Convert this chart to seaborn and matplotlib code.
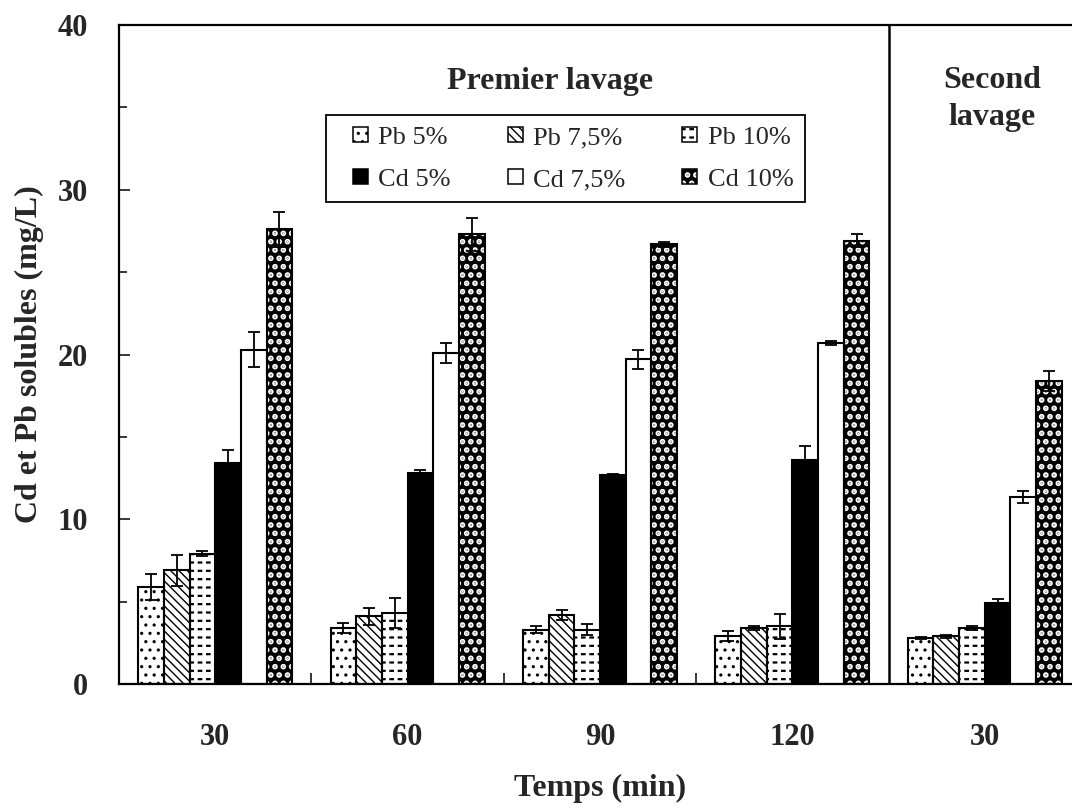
import numpy as np
import pandas as pd
import matplotlib
matplotlib.use("Agg")
import matplotlib.pyplot as plt
import matplotlib.patches as mpatches
from matplotlib.legend_handler import HandlerBase
from matplotlib.ticker import MultipleLocator, FixedLocator
import seaborn as sns

# ---------------- data ----------------
groupes = ["L1-30", "L1-60", "L1-90", "L1-120", "L2-30"]
tick_labels = ["30", "60", "90", "120", "30"]
series = ["Pb 5%", "Pb 7,5%", "Pb 10%", "Cd 5%", "Cd 7,5%", "Cd 10%"]

pb5 = [5.9, 3.4, 3.3, 2.9, 2.8]
pb75 = [6.9, 4.1, 4.2, 3.4, 2.9]
pb10 = [7.9, 4.3, 3.3, 3.5, 3.4]
cd5 = [13.4, 12.8, 12.7, 13.6, 4.9]
cd75 = [20.3, 20.1, 19.7, 20.7, 11.35]
cd10 = [27.6, 27.3, 26.7, 26.9, 18.4]

err_pb5 = [0.8, 0.3, 0.2, 0.3, 0.05]
err_pb75 = [0.95, 0.5, 0.3, 0.15, 0.1]
err_pb10 = [0.15, 0.9, 0.35, 0.75, 0.1]
err_cd5 = [0.8, 0.2, 0.05, 0.85, 0.25]
err_cd75 = [1.05, 0.6, 0.6, 0.1, 0.35]
err_cd10 = [1.05, 1.0, 0.15, 0.4, 0.6]

valeurs = [pb5, pb75, pb10, cd5, cd75, cd10]
erreurs = [err_pb5, err_pb75, err_pb10, err_cd5, err_cd75, err_cd10]

df = pd.DataFrame({
    "temps": [g for s in series for g in groupes],
    "serie": [s for s in series for g in groupes],
    "valeur": [v for vals in valeurs for v in vals],
})

# ---------------- style ----------------
sns.set_style("ticks")
plt.rcParams["font.family"] = ["Liberation Serif", "DejaVu Serif"]
plt.rcParams["font.weight"] = "bold"
plt.rcParams["hatch.linewidth"] = 1.0

faces = {"Pb 5%": "white", "Pb 7,5%": "white", "Pb 10%": "white",
         "Cd 5%": "black", "Cd 7,5%": "white", "Cd 10%": "black"}
hatches = {"Pb 5%": "..", "Pb 7,5%": "\\\\\\\\", "Pb 10%": "--",
           "Cd 5%": "", "Cd 7,5%": "", "Cd 10%": ".."}

EDGE = 1.5


def hlw(p, w):
    if hasattr(p, "set_hatch_linewidth"):
        p.set_hatch_linewidth(w)


def layers(s, xy, w, h, transform=None, lw=EDGE):
    """Patches that make up one bar / legend key of series s."""
    kw = {} if transform is None else {"transform": transform}
    out = []
    if s == "Cd 10%":
        base = mpatches.Rectangle(xy, w, h, facecolor="black", edgecolor="white",
                                  hatch=hatches[s], linewidth=0, **kw)
        hlw(base, 2.8)
        out.append(base)
    elif s == "Pb 10%":
        base = mpatches.Rectangle(xy, w, h, facecolor="white", edgecolor="black",
                                  hatch=hatches[s], linewidth=0, **kw)
        hlw(base, 1.6)
        cut = mpatches.Rectangle(xy, w, h, fill=False, edgecolor="white",
                                 hatch="||", linewidth=0, **kw)
        hlw(cut, 2.6)
        out += [base, cut]
    else:
        base = mpatches.Rectangle(xy, w, h, facecolor=faces[s], edgecolor="black",
                                  hatch=hatches[s] or None, linewidth=0, **kw)
        if s == "Pb 5%":
            hlw(base, 1.1)
        out.append(base)
    out.append(mpatches.Rectangle(xy, w, h, fill=False, edgecolor="black",
                                  linewidth=lw, **kw))
    return out


fig = plt.figure(figsize=(10.72, 8.10), dpi=100)
ax = fig.add_axes([119 / 1072, 126 / 810, 962 / 1072, 659 / 810])

sns.barplot(data=df, x="temps", y="valeur", hue="serie", order=groupes,
            hue_order=series, palette=faces, saturation=1, errorbar=None,
            edgecolor="black", linewidth=EDGE, legend=False, ax=ax)

bar_containers = list(ax.containers)

# style bars + error bars
for i, cont in enumerate(bar_containers):
    s = series[i]
    xs, hs, es = [], [], []
    for p in cont.patches:
        cx = p.get_x() + p.get_width() / 2
        gi = int(round(cx))
        z = p.get_zorder()
        if s in ("Cd 10%", "Pb 10%", "Pb 5%", "Pb 7,5%"):
            p.set_visible(False)
            for k, r in enumerate(layers(s, p.get_xy(), p.get_width(), p.get_height())):
                r.set_zorder(z + 0.01 * (k + 1))
                ax.add_patch(r)
        xs.append(cx)
        hs.append(p.get_height())
        es.append(erreurs[i][gi])
    ax.errorbar(xs, hs, yerr=es, fmt="none", ecolor="black", elinewidth=1.3,
                capsize=4, capthick=1.3, zorder=5)

# separator between washes
ax.axvline(3.5, color="black", linewidth=1.8, zorder=6)

# axes
ax.set_xlim(-0.5, 4.5)
ax.set_ylim(0, 40)
ax.set_xticks(range(len(groupes)))
ax.set_xticklabels(tick_labels)
ax.xaxis.set_minor_locator(FixedLocator([0.5, 1.5, 2.5]))
ax.yaxis.set_major_locator(MultipleLocator(10))
ax.yaxis.set_minor_locator(MultipleLocator(5))
ax.tick_params(axis="x", which="major", length=0, pad=28, labelsize=22)
ax.tick_params(axis="x", which="minor", direction="in", length=8, width=1.3)
ax.tick_params(axis="y", which="major", direction="in", length=8, width=1.3,
               pad=22, labelsize=22)
ax.tick_params(axis="y", which="minor", direction="in", length=6, width=1.3)
for sp in ["left", "bottom", "top", "right"]:
    ax.spines[sp].set_visible(True)
    ax.spines[sp].set_linewidth(1.6)
    ax.spines[sp].set_color("black")

ax.set_xlabel("Temps (min)", fontsize=23, fontweight="bold", labelpad=16)
ax.set_ylabel("Cd et Pb solubles (mg/L)", fontsize=23, fontweight="bold", labelpad=10)

ax.text(1.74, 36.6, "Premier lavage", fontsize=23, fontweight="bold",
        ha="center", va="center")
ax.text(4.04, 35.5, "Second\nlavage", fontsize=23, fontweight="bold",
        ha="center", va="center", linespacing=1.35)


# legend with square keys placed at the right end of the key box
class SquareKey(HandlerBase):
    def create_artists(self, legend, orig_handle, xdescent, ydescent,
                       width, height, fontsize, trans):
        side = 10.8
        x0 = -xdescent + width - side
        y0 = -ydescent + (height - side) / 2
        return layers(orig_handle, (x0, y0), side, side, transform=trans, lw=1.1)


order = ["Pb 5%", "Cd 5%", "Pb 7,5%", "Cd 7,5%", "Pb 10%", "Cd 10%"]
leg = ax.legend(order, order, ncol=3,
                loc="upper left", bbox_to_anchor=(0.215, 0.864), borderaxespad=0,
                prop={"family": ["Liberation Serif"], "weight": "normal", "size": 19},
                handlelength=1.17, handleheight=0.7, handletextpad=0.4,
                columnspacing=1.55, labelspacing=0.7, borderpad=0.42,
                fancybox=False, framealpha=1, edgecolor="black",
                handler_map={str: SquareKey()})
leg.get_frame().set_linewidth(1.3)

fig.savefig("out.png", dpi=100)
